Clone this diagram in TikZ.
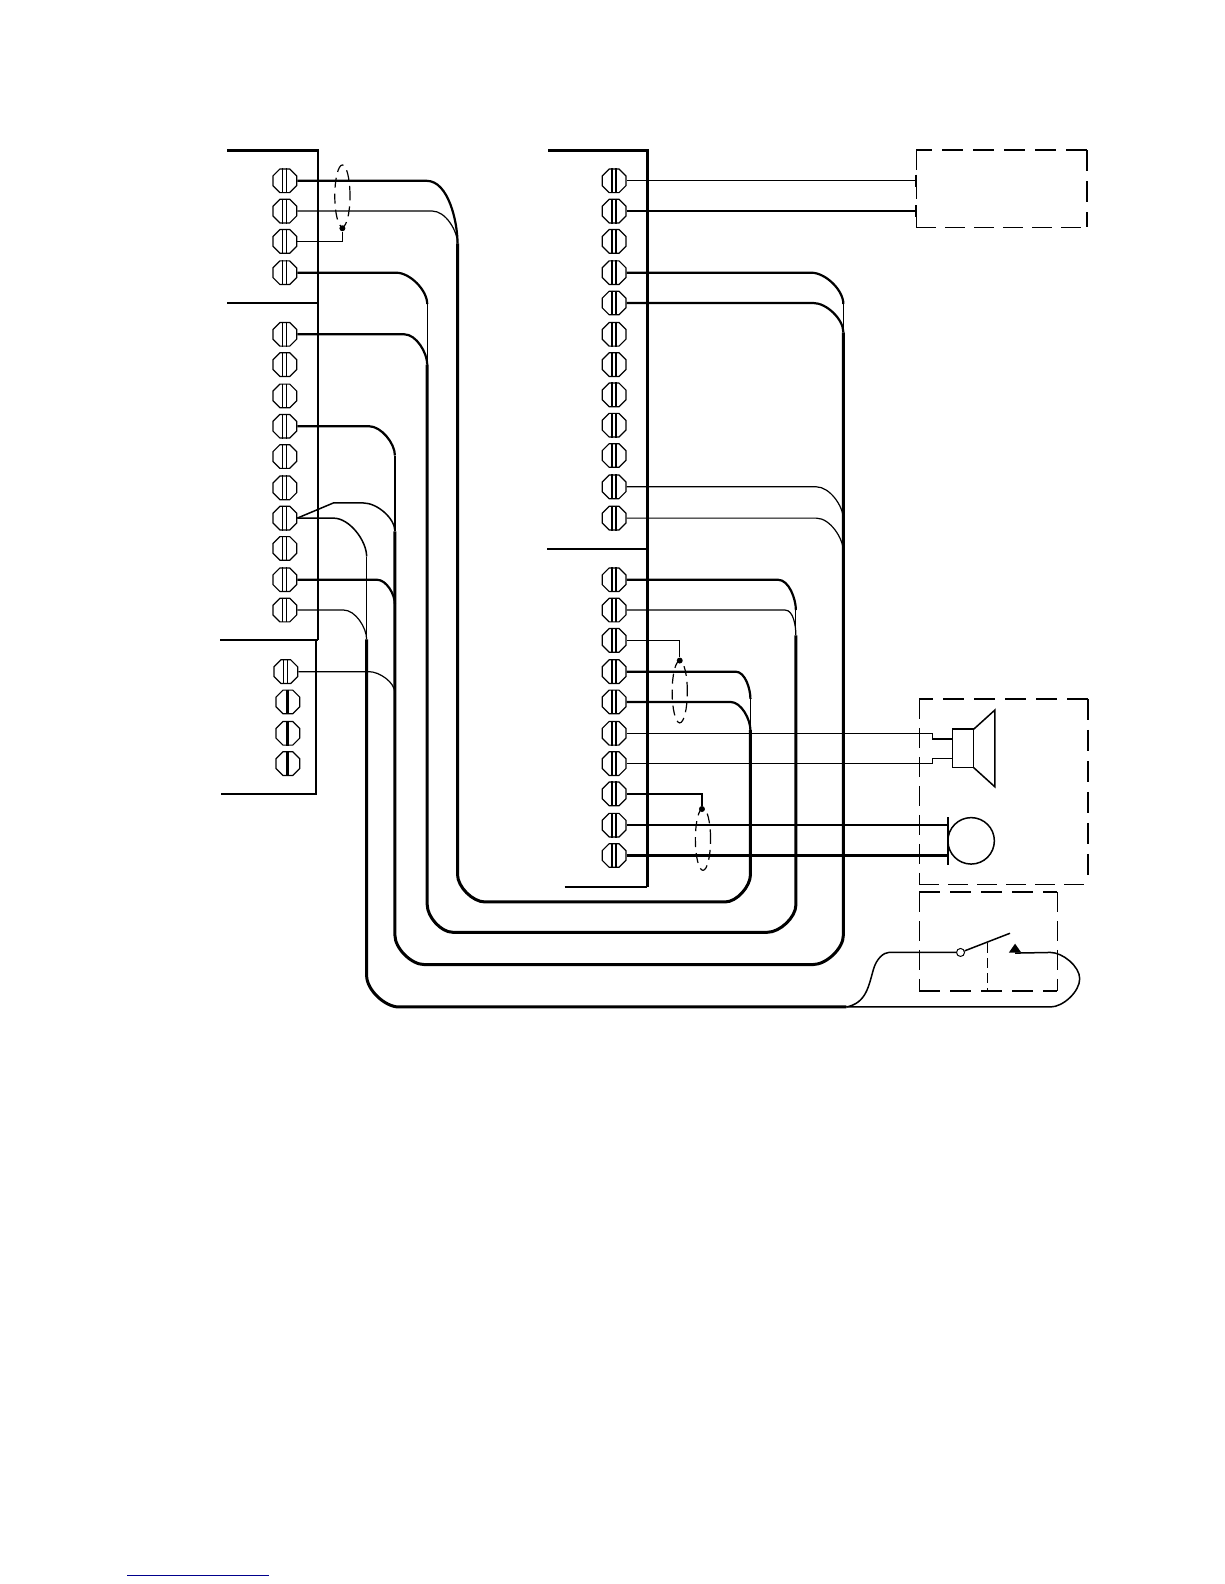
\documentclass[tikz,border=0pt]{standalone}
\usetikzlibrary{shapes.geometric}
\definecolor{linkblue}{RGB}{0,0,140}
\tikzset{
  screwhead/.style={draw,regular polygon,regular polygon sides=8,minimum size=12.8pt,inner sep=0pt,line width=.6pt,fill=white},
  wthin/.style={line width=.6pt},
  wmid/.style={line width=.75pt},
  wthick/.style={line width=1.1pt},
  trunk/.style={line width=1.5pt},
  frameline/.style={line width=1pt},
  frameheavy/.style={line width=1.2pt},
  dashthin/.style={line width=.5pt,dash pattern=on 10pt off 4.5pt},
  dashheavy/.style={line width=1pt,dash pattern=on 10.5pt off 5pt},
  shield/.style={draw,ellipse,line width=.6pt,dash pattern=on 5pt off 3pt,inner sep=0pt,minimum width=7.6pt,minimum height=31pt},
  tiedot/.style={circle,fill,inner sep=0pt,minimum size=3pt},
}
\newcommand{\screwd}[4]{\node[screwhead] (#1) at (#2,#3) {};
  \draw[line width=#4] ([xshift=-1pt]#1.north) -- ([xshift=-1pt]#1.south);
  \draw[line width=#4] ([xshift=1pt]#1.north) -- ([xshift=1pt]#1.south);}
\newcommand{\screws}[3]{\node[screwhead] (#1) at (#2,#3) {};
  \draw[line width=1.6pt] (#1.north) -- (#1.south);}
\newcommand{\wirecurve}[4]{\draw[#1] (#2.east) -- ++(#3,0) to[out=0,in=90,looseness=.8] (#4);}
\begin{document}
\begin{tikzpicture}[x=.505pt,y=-.505pt]
\useasboundingbox (0,-1) rectangle (1211.9,1567.3);
% frames
\draw[frameheavy] (225,148) -- (315,148) -- (315,633);
\draw[frameline] (225,299) -- (315,299);
\draw[frameline] (218,633) -- (315,633);
\draw[wmid] (313,633) -- (313,785) -- (219,785);
\draw[frameheavy] (543,148) -- (641,148) -- (641,877);
\draw[frameline] (542,543) -- (641,543);
\draw[wmid] (559,877) -- (641,877);
% left terminals
\foreach \n/\y in {1/178,2/208,3/238,4/269,5/330,6/360,7/391,8/421,9/451,10/482,11/512,12/542,13/573,14/603}
  {\screwd{L\n}{282}{\y}{.45pt}}
\screwd{T1}{283}{664}{.45pt}
\screws{T2}{285}{694}
\screws{T3}{285}{725}
\screws{T4}{285}{755}
% middle terminals
\foreach \n/\y in {1/178,2/208,3/238,4/269,5/299,6/330,7/360,8/390,9/420,10/450,11/481,12/512,13/573,14/603,15/633,16/664,17/694,18/725,19/755,20/785,21/816,22/846}
  {\screwd{M\n}{608}{\y}{.6pt}}
% junctions
\coordinate (ja1) at (453,240);
\coordinate (ja2) at (743,691);
\coordinate (ja3) at (743,722);
\coordinate (jb0) at (423,300);
\coordinate (jb1) at (423,360);
\coordinate (jb2) at (788,603);
\coordinate (jb3) at (788,628);
\coordinate (jc0) at (391,450);
\coordinate (jc1) at (391,525);
\coordinate (jc2) at (391,597);
\coordinate (jc3) at (391,685);
\coordinate (jc4) at (835,300);
\coordinate (jc5) at (835,328);
\coordinate (jc6) at (835,513);
\coordinate (jc7) at (835,545);
\coordinate (jd0) at (363,550);
\coordinate (jd1) at (363,632);
% trunk A
\wirecurve{wthick}{L1}{128}{ja1}
\wirecurve{wthin}{L2}{134}{ja1}
\draw[trunk] (ja1) -- (453,865) to[out=-90,in=180,looseness=.8] (480,892) -- (718,892) to[out=0,in=-90,looseness=.8] (743,865) -- (ja3);
\draw[wmid] (ja3) -- (ja2);
\wirecurve{wthick}{M16}{108}{ja2}
\wirecurve{wthick}{M17}{103}{ja3}
% trunk B
\wirecurve{wthick}{L4}{98}{jb0}
\wirecurve{wthick}{L5}{106}{jb1}
\draw[wthin] (jb0) -- (jb1);
\draw[trunk] (jb1) -- (423,895) to[out=-90,in=180,looseness=.8] (448,922) -- (760,922) to[out=0,in=-90,looseness=.8] (788,895) -- (jb3);
\draw[wthin] (jb3) -- (jb2);
\wirecurve{wthick}{M13}{150}{jb2}
\wirecurve{wthin}{M14}{157}{jb3}
% trunk C
\wirecurve{wthick}{L8}{71}{jc0}
\draw[wthin] (jc0) -- (jc1);
\coordinate (lb) at (330,497);
\draw[wmid] (L11.east) -- (lb) -- (360,497) to[out=0,in=90,looseness=.8] (jc1);
\wirecurve{wthick}{L13}{79}{jc2}
\wirecurve{wthin}{T1}{70}{jc3}
\draw[trunk] (jc1) -- (391,925) to[out=-90,in=180,looseness=.8] (420,954) -- (805,954) to[out=0,in=-90,looseness=.8] (835,925) -- (jc5);
\draw[wthin] (jc5) -- (jc4);
\wirecurve{wthick}{M4}{183}{jc4}
\wirecurve{wthick}{M5}{185}{jc5}
\wirecurve{wthin}{M11}{188}{jc6}
\wirecurve{wthin}{M12}{188}{jc7}
% trunk D
\wirecurve{wmid}{L11}{36}{jd0}
\wirecurve{wthin}{L14}{46}{jd1}
\draw[wthin] (jd0) -- (jd1);
\coordinate (jsw) at (838,996);
\draw[trunk] (jd1) -- (363,965) to[out=-90,in=180,looseness=.8] (395,996) -- (jsw);
% right dashed box 1
\draw[dashheavy] (1076,148) -- (907,148);
\draw[dashheavy] (1076,148) -- (1076,224);
\draw[dashthin] (907,148) -- (907,224);
\draw[dashthin] (907,224) -- (1076,224);
\coordinate (p1) at (907,178);
\coordinate (p2) at (907,208);
\draw[wthin] (M1.east) -- (p1);
\draw[wthin] (M2.east) -- (p2);
\draw[wthin] (907,172) -- (907,184);
\draw[wthin] (907,202) -- (907,214);
% shields
\node[shield] (e1) at (339,193) {};
\node[tiedot] (d1) at (339,225) {};
\coordinate (b1) at (339,238);
\draw[wmid] (L3.east) -- (b1) -- (d1);
\node[shield] (e2) at (673,684) {};
\node[tiedot] (d2) at (673,653) {};
\coordinate (b2) at (673,633);
\draw[wmid] (M15.east) -- (b2) -- (d2);
\node[shield] (e3) at (696,830) {};
\node[tiedot] (d3) at (695,800) {};
\coordinate (b3) at (695,785);
\draw[wmid] (M20.east) -- (b3) -- (d3);
% speaker / mic box
\draw[dashheavy] (1077,691) -- (910,691);
\draw[dashheavy] (1077,691) -- (1077,875);
\draw[dashthin] (910,691) -- (910,875);
\draw[dashthin] (910,875) -- (1077,875);
% speaker
\draw[wmid] (943,721) rectangle (964,759);
\draw[line width=.8pt] (943,721) -- (964,721);
\draw[wmid] (964,721) -- (985,702) -- (985,778) -- (964,759);
\coordinate (s1) at (923,725);
\coordinate (s2) at (923,731);
\coordinate (s3) at (943,731);
\coordinate (s4) at (923,755);
\coordinate (s5) at (923,750);
\coordinate (s6) at (943,750);
\draw[wthin] (M18.east) -- (s1);
\draw[wmid] (s1) -- (s2);
\draw[wthick] (s2) -- (s3);
\draw[wthin] (M19.east) -- (s4);
\draw[wmid] (s4) -- (s5);
\draw[wthin] (s5) -- (s6);
% microphone
\coordinate (m1) at (938.5,816);
\coordinate (m2) at (938.5,846);
\draw[wthick] (M21.east) -- (m1);
\draw[wthick] (M22.east) -- (m2);
\draw[line width=1.1pt] (938.5,808) -- (938.5,855);
\draw[wmid] (961.5,831.5) circle[radius=23];
% switch box
\draw[dashheavy] (910,882) -- (1047,882);
\draw[dashthin] (1047,882) -- (1047,980);
\draw[dashheavy] (910,980) -- (1047,980);
\draw[dashthin] (910,882) -- (910,980);
\node[circle,draw,line width=.5pt,inner sep=0pt,minimum size=4pt,fill=white] (sw) at (951,942) {};
\coordinate (swtip) at (1000,923);
\draw[wmid] (sw) -- (swtip);
\draw[wthin,dash pattern=on 5pt off 2.5pt] (978,933) -- (978,980);
\node[isosceles triangle,isosceles triangle apex angle=70,shape border rotate=90,fill=black,inner sep=0pt,minimum height=4.5pt,minimum width=5pt] (tr) at (1005,939) {};
\coordinate (c1) at (880,942);
\draw[wmid] (jsw) .. controls (858,992) and (860,975) .. (865,958) .. controls (868,948) and (875,942) .. (c1) -- (sw.west);
\coordinate (c2) at (1040,942);
\coordinate (c3) at (1069,968);
\draw[wmid] (tr.south) ++(0,0) -- (c2) to[out=0,in=90,looseness=.8] (c3) to[out=-90,in=0,looseness=.8] (1040,996) -- (jsw);
% page foot rule
\coordinate (f1) at (126,1559);
\coordinate (f2) at (266,1559);
\draw[linkblue,line width=.6pt] (f1) -- (f2);
\end{tikzpicture}
\end{document}
